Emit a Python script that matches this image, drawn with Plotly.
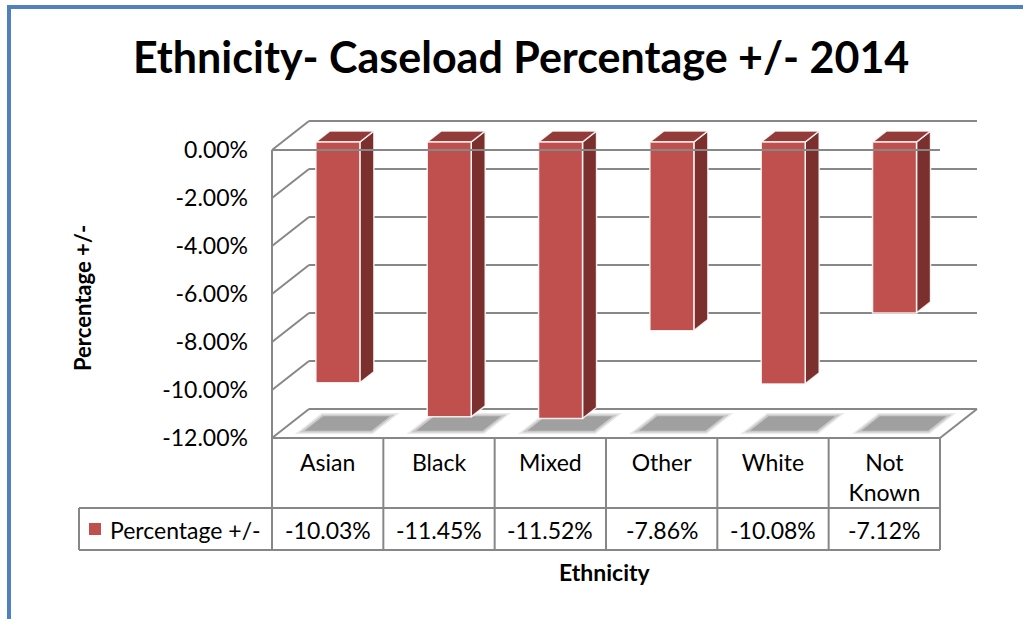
import plotly.graph_objects as go

# ---- data ----
categories = ["Asian", "Black", "Mixed", "Other", "White", "Not Known"]
category_labels = ["Asian", "Black", "Mixed", "Other", "White", "Not<br>Known"]
pct_change = [-10.03, -11.45, -11.52, -7.86, -10.08, -7.12]
series_name = "Percentage +/-"
y_ticks = [0, -2, -4, -6, -8, -10, -12]
y_tick_labels = [f"{v:.2f}%" for v in y_ticks]

# ---- layout geometry (pixels) ----
W, H = 1023, 619
X0_PX, UX = 272.0, 111.33      # left edge of the front plane, px per category
Y0_PX, UY = 150.0, 24.0        # zero line of the front plane, px per percent
DX = 37.0 / UX                 # depth vector of the oblique projection
DY = 29.0 / UY

FONT = "Lato"
GRID = "#878787"
FRONT, SIDE, TOP = "#C0504D", "#7B302E", "#923B39"

x_range = [-X0_PX / UX, (W - X0_PX) / UX]
y_range = [-(H - Y0_PX) / UY, Y0_PX / UY]


def proj(u, v, d):
    return u + d * DX, v + d * DY


def px_to_v(py):
    return (Y0_PX - py) / UY


def px_to_u(px):
    return (px - X0_PX) / UX


n = len(categories)
v_min = min(y_ticks)
fig = go.Figure()


def add_lines(segments, color=GRID, width=2):
    xs, ys = [], []
    for (a, b) in segments:
        xs += [a[0], b[0], None]
        ys += [a[1], b[1], None]
    fig.add_trace(go.Scatter(x=xs, y=ys, mode="lines", line=dict(color=color, width=width),
                             hoverinfo="skip", showlegend=False))


def add_polys(polys, fill, line_color="rgba(0,0,0,0)", line_width=0):
    xs, ys = [], []
    for poly in polys:
        for p in poly + [poly[0]]:
            xs.append(p[0])
            ys.append(p[1])
        xs.append(None)
        ys.append(None)
    fig.add_trace(go.Scatter(x=xs, y=ys, mode="lines", fill="toself", fillcolor=fill,
                             line=dict(color=line_color, width=line_width),
                             hoverinfo="skip", showlegend=False))


# back wall gridlines, side wall diagonals, floor
segs = []
for v in y_ticks:
    segs.append((proj(0, v, 1), proj(n, v, 1)))
    segs.append((proj(0, v, 0), proj(0, v, 1)))
segs.append((proj(n, v_min, 0), proj(n, v_min, 1)))
add_lines(segs)

# soft shadows on the floor (stacked translucent layers)
for grow, fill in ((0.05, "rgba(170,170,170,0.25)"), (0.028, "rgba(165,165,165,0.45)"),
                   (0.0, "#A0A0A0")):
    polys = []
    for i in range(n):
        c = i + 0.51
        hw_s, d0, d1 = 0.30 + grow, 0.25 - grow * 2.2, 0.75 + grow * 2.2
        polys.append([proj(c - hw_s, v_min, d0), proj(c + hw_s, v_min, d0),
                      proj(c + hw_s, v_min, d1), proj(c - hw_s, v_min, d1)])
    add_polys(polys, fill)

# 3-D columns
hw, df, db = 0.1975, 0.276, 0.655
fronts, sides, tops = [], [], []
for i, v in enumerate(pct_change):
    c = i + 0.5
    fronts.append([proj(c - hw, 0, df), proj(c + hw, 0, df), proj(c + hw, v, df), proj(c - hw, v, df)])
    sides.append([proj(c + hw, 0, df), proj(c + hw, 0, db), proj(c + hw, v, db), proj(c + hw, v, df)])
    tops.append([proj(c - hw, 0, df), proj(c + hw, 0, df), proj(c + hw, 0, db), proj(c - hw, 0, db)])
add_polys(sides, SIDE, "rgba(255,255,255,0.85)", 1.5)
add_polys(tops, TOP, "rgba(255,255,255,0.85)", 1.5)
add_polys(fronts, FRONT, "rgba(255,255,255,0.85)", 1.5)

# front edges: zero line, floor front
add_lines([(proj(0, 0, 0), proj(n, 0, 0)),
           (proj(0, v_min, 0), proj(n, v_min, 0))])

# data table grid
row1, row2 = px_to_v(508), px_to_v(550)
leg_left = px_to_u(79)
tsegs = [((0, 0), (0, row2)),
         ((leg_left, row1), (n, row1)),
         ((leg_left, row2), (n, row2)),
         ((leg_left, row1), (leg_left, row2))]
for k in range(1, n + 1):
    tsegs.append(((k, v_min), (k, row2)))
add_lines(tsegs)

annotations = []
# values row
for i, v in enumerate(pct_change):
    annotations.append(dict(x=i + 0.5, y=px_to_v(530), xref="x", yref="y", text=f"{v:.2f}%",
                            showarrow=False, font=dict(family=FONT, size=23, color="#000"),
                            xanchor="center", yanchor="middle"))
# legend key
fig.add_shape(type="rect", xref="x", yref="y", x0=px_to_u(89), x1=px_to_u(101),
              y0=px_to_v(535), y1=px_to_v(523), fillcolor=FRONT, line=dict(width=0))
annotations.append(dict(x=px_to_u(108), y=px_to_v(530), xref="x", yref="y", text=series_name,
                        showarrow=False, font=dict(family=FONT, size=23, color="#000"),
                        xanchor="left", yanchor="middle"))
# titles
annotations.append(dict(x=521 / W, y=1 - 56 / H, xref="paper", yref="paper",
                        text="<b>Ethnicity- Caseload Percentage +/- 2014</b>", showarrow=False,
                        font=dict(family=FONT, size=43, color="#000"), xanchor="center", yanchor="middle"))
annotations.append(dict(x=83 / W, y=1 - 298 / H, xref="paper", yref="paper", text="<b>Percentage +/-</b>",
                        textangle=-90, showarrow=False, font=dict(family=FONT, size=22, color="#000"),
                        xanchor="center", yanchor="middle"))
annotations.append(dict(x=605 / W, y=1 - 572 / H, xref="paper", yref="paper", text="<b>Ethnicity</b>",
                        showarrow=False, font=dict(family=FONT, size=23, color="#000"),
                        xanchor="center", yanchor="middle"))

# outer chart border (top and left visible)
fig.add_shape(type="rect", xref="paper", yref="paper", x0=9 / W, x1=1.02, y0=-0.02, y1=1 - 7 / H,
              line=dict(color="#4F81BD", width=4), fillcolor="rgba(0,0,0,0)", layer="above")

fig.update_layout(
    width=W, height=H, margin=dict(l=0, r=0, t=0, b=0),
    paper_bgcolor="white", plot_bgcolor="white", showlegend=False,
    annotations=annotations,
    xaxis=dict(range=x_range, domain=[0, 1], anchor="free", position=1 - 438 / H,
               tickvals=[i + 0.5 for i in range(n)], ticktext=category_labels,
               tickfont=dict(family=FONT, size=23, color="#000"), ticks="", ticklabelstandoff=9,
               showgrid=False, zeroline=False, showline=False, fixedrange=True),
    yaxis=dict(range=y_range, domain=[0, 1], anchor="free", position=X0_PX / W,
               tickvals=y_ticks, ticktext=y_tick_labels,
               tickfont=dict(family=FONT, size=23, color="#000"), ticks="", ticklabelstandoff=24,
               showgrid=False, zeroline=False, showline=False, fixedrange=True),
)

fig.write_html("out.html")
